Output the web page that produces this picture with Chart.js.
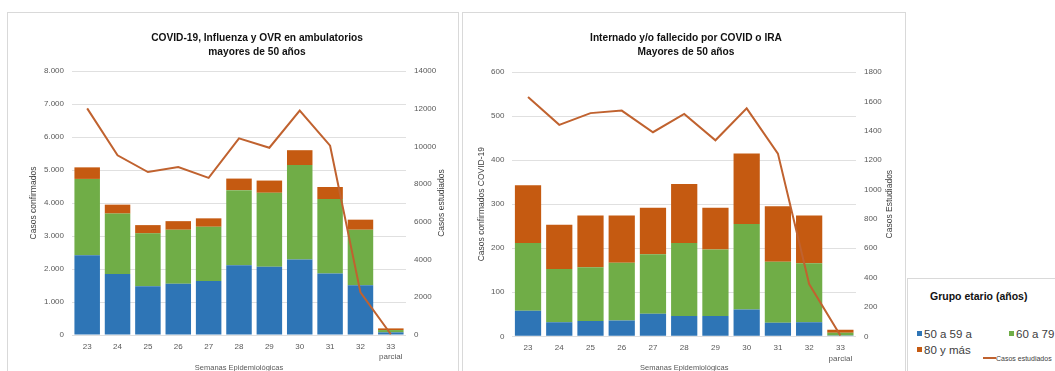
<!DOCTYPE html>
<html>
<head>
<meta charset="utf-8">
<script src="https://cdn.jsdelivr.net/npm/chart.js@4"></script>
<style>
  html, body { margin: 0; padding: 0; background: #fff; overflow: hidden; }
  body { width: 1055px; height: 371px; position: relative; font-family: "Liberation Sans", Arial, sans-serif; }
  .panel { position: absolute; border: 1px solid #d9d9d9; box-sizing: border-box; }
  .wrap { position: absolute; left: 0; top: 0; }
  .title { position: absolute; font-weight: bold; font-size: 10.2px; line-height: 14px; color: #111; text-align: center; white-space: nowrap; }
  .legend { position: absolute; left: 907px; top: 278px; width: 200px; height: 120px; border: 1px solid #d9d9d9; color: #404040; }
  .legend .head { position: absolute; left: 22px; top: 11px; font-weight: bold; font-size: 10.5px; color: #111; }
  .legend .item { position: absolute; font-size: 11.5px; line-height: 14px; white-space: nowrap; }
  .legend .sw { display: inline-block; width: 5px; height: 5px; margin-right: 2px; vertical-align: 2px; }
  .legend .ln { display: inline-block; width: 13px; height: 2px; background: #c0622f; vertical-align: 2px; }
  .legend .small { font-size: 7px; }
</style>
</head>
<body>

<div class="panel" style="left:7px; top:12px; width:452px; height:380px;">
  <div class="wrap" style="width:450px; height:372px;"><canvas id="ambu"></canvas></div>
  <div class="title" style="left:0; width:498px; top:18px;">COVID-19, Influenza y OVR en ambulatorios<br>mayores de 50 años</div>
</div>

<div class="panel" style="left:462px; top:12px; width:444px; height:380px;">
  <div class="wrap" style="width:441px; height:372px;"><canvas id="hosp"></canvas></div>
  <div class="title" style="left:0; width:446px; top:18px;">Internado y/o fallecido por COVID o IRA<br>Mayores de 50 años</div>
</div>

<div class="legend">
  <div class="head">Grupo etario (años)</div>
  <div class="item" style="left:9px; top:48px;"><span class="sw" style="background:#2e75b6"></span>50 a 59 a</div>
  <div class="item" style="left:101px; top:48px;"><span class="sw" style="background:#70ad47"></span>60 a 79 a</div>
  <div class="item" style="left:9px; top:64px;"><span class="sw" style="background:#c55a11"></span>80 y más</div>
  <div class="item small" style="left:75px; top:73px;"><span class="ln"></span>Casos estudiados</div>
</div>

<script>
// semanas epidemiológicas (la última es parcial)
const weeks = ['23', '24', '25', '26', '27', '28', '29', '30', '31', '32', ['33', 'parcial']];

// ambulatorios mayores de 50 años
const ambu50to59 = [2420, 1850, 1475, 1555, 1636, 2110, 2070, 2290, 1860, 1505, 80];
const ambu60to79 = [2310, 1830, 1605, 1635, 1644, 2280, 2240, 2860, 2260, 1685, 70];
const ambu80plus = [350, 270, 250, 260, 255, 350, 370, 450, 365, 305, 50];
const ambuStudied = [12020, 9530, 8640, 8910, 8330, 10430, 9930, 11900, 10040, 2260, 40];

// internados y/o fallecidos mayores de 50 años
const hosp50to59 = [58, 32, 35, 36, 51, 46, 46, 61, 31, 32, 2];
const hosp60to79 = [154, 121, 122, 131, 135, 166, 151, 194, 138, 134, 6];
const hosp80plus = [131, 100, 117, 107, 106, 134, 95, 160, 126, 108, 7];
const hospStudied = [1630, 1440, 1520, 1537, 1390, 1514, 1335, 1552, 1244, 356, 5];

const BLUE = '#2e75b6', GREEN = '#70ad47', ORANGE = '#c55a11', LINE = '#c0622f';
const GRID = '#e0e0e0', TICK = '#595959';

Chart.defaults.font.family = '"Liberation Sans", Arial, sans-serif';
Chart.defaults.color = TICK;

const dotted = v => String(v).replace(/\B(?=(\d{3})+(?!\d))/g, '.');

// Excel draws the secondary axis title bottom-to-top, so it's done by hand
const rightTitle = {
  id: 'rightTitle',
  afterDraw(chart, args, opts) {
    const s = chart.scales.y1, ctx = chart.ctx;
    ctx.save();
    ctx.translate(s.right - opts.offset, (s.top + s.bottom) / 2);
    ctx.rotate(-Math.PI / 2);
    ctx.font = '8.5px "Liberation Sans", Arial, sans-serif';
    ctx.fillStyle = '#404040';
    ctx.textAlign = 'center';
    ctx.textBaseline = 'middle';
    ctx.fillText(opts.text, 0, 0);
    ctx.restore();
  }
};

function bar(label, data, color) {
  return {
    type: 'bar', label, data, backgroundColor: color, borderWidth: 0,
    barPercentage: 0.84, categoryPercentage: 1, yAxisID: 'y', order: 1
  };
}

function makeChart(id, s) {
  return new Chart(document.getElementById(id), {
    data: {
      labels: weeks,
      datasets: [
        bar('50 a 59 a', s.a, BLUE),
        bar('60 a 79 a', s.b, GREEN),
        bar('80 y más', s.c, ORANGE),
        {
          type: 'line', label: 'Casos estudiados', data: s.line, yAxisID: 'y1',
          borderColor: LINE, borderWidth: 2, pointRadius: 0, tension: 0, order: 0
        }
      ]
    },
    plugins: [rightTitle],
    options: {
      responsive: true,
      maintainAspectRatio: false,
      animation: false,
      layout: { padding: { left: s.padL, right: s.padR, top: s.padT, bottom: 0 } },
      plugins: {
        legend: { display: false },
        tooltip: { enabled: false },
        rightTitle: { text: s.rightLabel, offset: s.rightOffset }
      },
      scales: {
        x: {
          stacked: true,
          grid: { display: false, drawTicks: false },
          border: { display: false },
          ticks: { padding: 6, font: { size: 8, lineHeight: 1.35 }, maxRotation: 0, autoSkip: false },
          title: { display: true, text: 'Semanas Epidemiológicas', font: { size: 7.5 }, padding: { top: 4, bottom: 12.5 } },
          afterFit: sc => { sc.height = s.xHeight; }
        },
        y: {
          stacked: true, min: 0, max: s.leftMax,
          grid: { color: GRID, drawTicks: false },
          border: { display: false },
          ticks: { stepSize: s.leftStep, padding: 8, font: { size: 8 }, callback: v => dotted(v) },
          title: { display: true, text: s.leftLabel, color: '#404040', font: { size: 8.5 }, padding: { top: s.leftTitlePad, bottom: 0 } },
          afterFit: sc => { sc.width = s.yWidth; }
        },
        y1: {
          position: 'right', min: 0, max: s.rightMax,
          grid: { display: false, drawTicks: false },
          border: { display: false },
          ticks: { stepSize: s.rightStep, padding: 8, font: { size: 8 }, callback: v => String(v) },
          afterFit: sc => { sc.width = s.y1Width; }
        }
      }
    }
  });
}

makeChart('ambu', {
  a: ambu50to59, b: ambu60to79, c: ambu80plus, line: ambuStudied,
  leftMax: 8000, leftStep: 1000, rightMax: 14000, rightStep: 2000,
  leftLabel: 'Casos confirmados', rightLabel: 'Casos estudiados',
  padL: 13, padR: 8, padT: 58, yWidth: 51, y1Width: 44, xHeight: 50,
  leftTitlePad: 8, rightOffset: 8
});

makeChart('hosp', {
  a: hosp50to59, b: hosp60to79, c: hosp80plus, line: hospStudied,
  leftMax: 600, leftStep: 100, rightMax: 1800, rightStep: 200,
  leftLabel: 'Casos confirmados COVID-19', rightLabel: 'Casos Estudiados',
  padL: 8, padR: 8, padT: 59, yWidth: 41.4, y1Width: 40, xHeight: 48.7,
  leftTitlePad: 6, rightOffset: 6
});
</script>
</body>
</html>
